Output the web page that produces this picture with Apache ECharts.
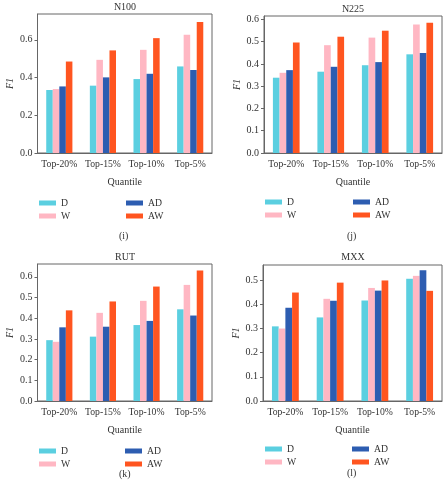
<!DOCTYPE html>
<html><head><meta charset="utf-8">
<script src="https://cdn.jsdelivr.net/npm/echarts@6/dist/echarts.min.js"></script>
<style>html,body{margin:0;padding:0;background:#fff;}#c{width:443px;height:491px;}</style>
</head><body><div id="c"></div>
<script>
const categories = ['Top-20%', 'Top-15%', 'Top-10%', 'Top-5%'];
const seriesNames = ['D', 'W', 'AD', 'AW'];
const panelTitles = ['N100', 'N225', 'RUT', 'MXX'];
const captions = ['(i)', '(j)', '(k)', '(l)'];
const yMax = [0.737, 0.615, 0.662, 0.563];
const yInterval = [0.2, 0.1, 0.1, 0.1];

// values per panel: [D, W, AD, AW]
const n100_D  = [0.334, 0.357, 0.392, 0.459];
const n100_W  = [0.339, 0.494, 0.547, 0.627];
const n100_AD = [0.353, 0.401, 0.420, 0.440];
const n100_AW = [0.485, 0.544, 0.609, 0.694];

const n225_D  = [0.338, 0.365, 0.394, 0.443];
const n225_W  = [0.360, 0.484, 0.518, 0.577];
const n225_AD = [0.372, 0.387, 0.408, 0.449];
const n225_AW = [0.496, 0.522, 0.549, 0.585];

const rut_D  = [0.294, 0.311, 0.367, 0.443];
const rut_W  = [0.286, 0.426, 0.484, 0.561];
const rut_AD = [0.356, 0.359, 0.387, 0.413];
const rut_AW = [0.438, 0.481, 0.553, 0.631];

const mxx_D  = [0.309, 0.346, 0.416, 0.506];
const mxx_W  = [0.300, 0.423, 0.468, 0.518];
const mxx_AD = [0.386, 0.415, 0.457, 0.541];
const mxx_AW = [0.449, 0.490, 0.499, 0.456];

const panelData = [
  [n100_D, n100_W, n100_AD, n100_AW],
  [n225_D, n225_W, n225_AD, n225_AW],
  [rut_D, rut_W, rut_AD, rut_AW],
  [mxx_D, mxx_W, mxx_AD, mxx_AW]
];
const colors = ['#5bcfe0', '#ffb7c3', '#2d5db1', '#ff5520'];

const FONT = 'Liberation Serif';
const TXT = '#333';
const AX = '#666';

// layout (pixels)
const grids = [
  {left: 37.5, top: 14, width: 174.5, height: 139},
  {left: 264, top: 16, width: 178, height: 137},
  {left: 37.5, top: 264, width: 174.5, height: 137},
  {left: 263, top: 265, width: 179, height: 136}
];
const titlePos = [[125, 2], [353, 4], [125, 252], [353, 252]];
const capPos = [[125, 237], [353, 237], [125, 475], [353, 474]];
const legendPos = [
  {l1: 39, l2: 126, top: 198},
  {l1: 265, l2: 353, top: 197},
  {l1: 39, l2: 125, top: 446},
  {l1: 265, l2: 352, top: 444}
];

const option = {
  backgroundColor: '#fff',
  animation: false,
  textStyle: {fontFamily: FONT},
  title: [], grid: [], xAxis: [], yAxis: [], legend: [], series: [], graphic: []
};

for (let p = 0; p < 4; p++) {
  const g = grids[p];
  option.grid.push({left: g.left, top: g.top, width: g.width, height: g.height,
    show: true, borderColor: AX, borderWidth: 1, backgroundColor: 'transparent'});
  option.title.push({text: panelTitles[p], left: titlePos[p][0], top: titlePos[p][1], textAlign: 'center',
    padding: 0,
    textStyle: {fontFamily: FONT, fontSize: 10, fontWeight: 'normal', color: TXT}});
  option.xAxis.push({type: 'category', gridIndex: p, data: categories,
    name: 'Quantile', nameLocation: 'middle', nameGap: 24,
    nameTextStyle: {fontFamily: FONT, fontSize: 10, color: TXT},
    axisLine: {lineStyle: {color: AX}},
    axisTick: {alignWithLabel: true, length: 3, lineStyle: {color: AX}},
    axisLabel: {fontFamily: FONT, fontSize: 9.7, color: TXT, margin: 6, interval: 0}
  });
  option.yAxis.push({type: 'value', gridIndex: p, min: 0, max: yMax[p], interval: yInterval[p],
    name: 'F1', nameLocation: 'middle', nameGap: 22, nameRotate: 90,
    nameTextStyle: {fontFamily: FONT, fontSize: 10, color: TXT, fontStyle: 'italic'},
    axisLine: {show: true, lineStyle: {color: AX}},
    axisTick: {show: true, length: 3, lineStyle: {color: AX}},
    splitLine: {show: false},
    axisLabel: {fontFamily: FONT, fontSize: 10, color: TXT, margin: 5, showMaxLabel: false,
      formatter: v => v.toFixed(1)}
  });
  const lp = legendPos[p];
  const legCommon = {orient: 'vertical', top: lp.top, itemWidth: 17, itemHeight: 5, itemGap: 3,
    icon: 'rect', selectedMode: false, padding: 0,
    textStyle: {fontFamily: FONT, fontSize: 9.7, color: TXT, lineHeight: 10}};
  option.legend.push(Object.assign({left: lp.l1, data: [seriesNames[0], seriesNames[1]]}, legCommon));
  option.legend.push(Object.assign({left: lp.l2, data: [seriesNames[2], seriesNames[3]]}, legCommon));
  for (let s = 0; s < 4; s++) {
    option.series.push({type: 'bar', name: seriesNames[s], xAxisIndex: p, yAxisIndex: p,
      data: panelData[p][s], itemStyle: {color: colors[s]},
      barGap: '0%', barCategoryGap: '40%'});
  }
  option.graphic.push({type: 'text', left: capPos[p][0] - 6, top: capPos[p][1] - 6,
    style: {text: captions[p], font: '10px "' + FONT + '"', fill: TXT}});
}

const chart = echarts.init(document.getElementById('c'), null, {renderer: 'canvas'});
chart.setOption(option);
</script></body></html>
